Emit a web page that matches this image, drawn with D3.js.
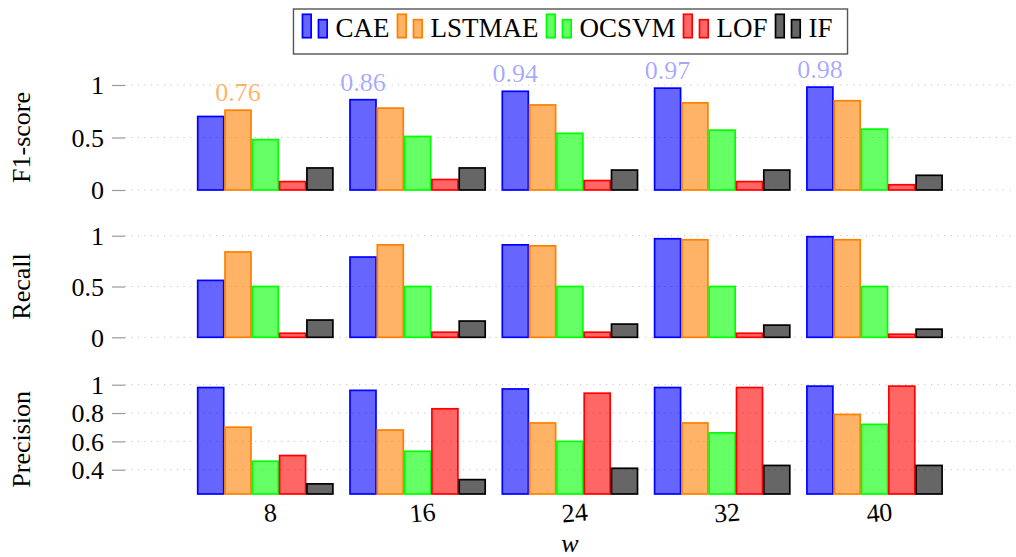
<!DOCTYPE html>
<html>
<head>
<meta charset="utf-8">
<script src="https://cdn.jsdelivr.net/npm/d3@7"></script>
<style>
  html, body { margin: 0; padding: 0; background: #fff; }
  svg { display: block; font-family: "Liberation Serif", "DejaVu Serif", serif; }
</style>
</head>
<body>
<svg id="chart" width="1016" height="557"></svg>
<script>
// Window sizes w on the x axis
const categories = ["8", "16", "24", "32", "40"];
const series = ["CAE", "LSTMAE", "OCSVM", "LOF", "IF"];

// F1-score per method
const f1CAE    = [0.70, 0.86, 0.94, 0.97, 0.98];
const f1LSTMAE = [0.76, 0.78, 0.81, 0.83, 0.85];
const f1OCSVM  = [0.48, 0.51, 0.54, 0.57, 0.58];
const f1LOF    = [0.08, 0.10, 0.09, 0.08, 0.05];
const f1IF     = [0.21, 0.21, 0.19, 0.19, 0.14];

// Recall per method
const recCAE    = [0.56, 0.79, 0.91, 0.97, 0.99];
const recLSTMAE = [0.84, 0.91, 0.90, 0.96, 0.96];
const recOCSVM  = [0.50, 0.50, 0.50, 0.50, 0.50];
const recLOF    = [0.04, 0.05, 0.05, 0.04, 0.03];
const recIF     = [0.17, 0.16, 0.13, 0.12, 0.08];

// Precision per method
const preCAE    = [0.98, 0.96, 0.97, 0.98, 0.99];
const preLSTMAE = [0.70, 0.68, 0.73, 0.73, 0.79];
const preOCSVM  = [0.46, 0.53, 0.60, 0.66, 0.72];
const preLOF    = [0.50, 0.83, 0.94, 0.98, 0.99];
const preIF     = [0.30, 0.33, 0.41, 0.43, 0.43];

// Tick labels
const ticksF1 = [0, 0.5, 1];
const ticksRecall = [0, 0.5, 1];
const ticksPrecision = [0.4, 0.6, 0.8, 1];

const strokeColors = ["#0000ff", "#ff8000", "#00ff00", "#ff0000", "#000000"];

const svg = d3.select("#chart");
const FONT = 26;
const BAR_STROKE = 1.7;

const gridLeft = 125, gridRight = 1013;

// Group and in-group band scales
const x = d3.scaleBand().domain(categories).range([189.15, 950.65]).paddingInner(0).paddingOuter(0);
const xInner = d3.scaleBand().domain(series).range([0, 136.5]).paddingInner(0.048).paddingOuter(0.024);
const innerOffset = (x.bandwidth() - 136.5) / 2;

const panels = [
  { title: "F1-score", data: [f1CAE, f1LSTMAE, f1OCSVM, f1LOF, f1IF], ticks: ticksF1,
    y: d3.scaleLinear().domain([0, 1]).range([190, 85]), bottom: 190, labelTop: true },
  { title: "Recall", data: [recCAE, recLSTMAE, recOCSVM, recLOF, recIF], ticks: ticksRecall,
    y: d3.scaleLinear().domain([0, 1]).range([337.3, 235.7]), bottom: 337.3 },
  { title: "Precision", data: [preCAE, preLSTMAE, preOCSVM, preLOF, preIF], ticks: ticksPrecision,
    y: d3.scaleLinear().domain([0.4, 1]).range([469.7, 384.7]), bottom: 494 }
];

const fmtTick = v => (v === 0 || v === 1) ? d3.format("d")(v) : d3.format(".1f")(v);

panels.forEach(p => {
  const g = svg.append("g");

  // dotted grid
  g.append("g").selectAll("line").data(p.ticks).join("line")
    .attr("x1", gridLeft).attr("x2", gridRight)
    .attr("y1", d => p.y(d)).attr("y2", d => p.y(d))
    .attr("stroke", "#c4c4c4").attr("stroke-width", 1)
    .attr("stroke-dasharray", "1.2,5.3");

  // y axis: ticks and labels only
  const axis = g.append("g").attr("transform", `translate(${gridLeft},0)`)
    .call(d3.axisLeft(p.y).tickValues(p.ticks).tickFormat(fmtTick).tickSize(13).tickPadding(8));
  axis.select(".domain").remove();
  axis.selectAll(".tick line").attr("stroke", "#9a9a9a").attr("stroke-width", 1.2);
  axis.selectAll(".tick text").attr("fill", "#000").style("font-size", FONT + "px")
    .style("font-family", "'Liberation Serif', serif").attr("dy", "0.34em");

  // bars
  series.forEach((s, si) => {
    const vals = p.data[si];
    g.append("g").selectAll("rect").data(vals).join("rect")
      .attr("x", (d, i) => x(categories[i]) + innerOffset + xInner(s))
      .attr("width", xInner.bandwidth())
      .attr("y", d => p.y(d))
      .attr("height", d => Math.max(0, p.bottom - p.y(d)))
      .attr("fill", strokeColors[si]).attr("fill-opacity", 0.6)
      .attr("stroke", strokeColors[si]).attr("stroke-width", BAR_STROKE);
  });

  // value label above the best method of each group
  if (p.labelTop) {
    categories.forEach((c, i) => {
      let best = 0;
      series.forEach((s, si) => { if (p.data[si][i] > p.data[best][i]) best = si; });
      const v = p.data[best][i];
      g.append("text")
        .attr("x", x(c) + innerOffset + xInner(series[best]) + xInner.bandwidth() / 2)
        .attr("y", p.y(v) - 9)
        .attr("text-anchor", "middle")
        .attr("fill", strokeColors[best]).attr("fill-opacity", best === 0 ? 0.35 : 0.6)
        .style("font-size", FONT + "px")
        .text(d3.format(".2f")(v));
    });
  }

  // panel title
  const cy = (p.y.range()[1] + p.bottom) / 2;
  svg.append("text")
    .attr("transform", `translate(30,${cy}) rotate(-90)`)
    .attr("text-anchor", "middle")
    .style("font-size", FONT + "px")
    .text(p.title);
});

// x axis labels
const xAxis = svg.append("g").attr("transform", "translate(4,503)")
  .call(d3.axisBottom(x).tickSize(0).tickPadding(0));
xAxis.select(".domain").remove();
xAxis.selectAll(".tick text")
  .style("font-size", FONT + "px").style("font-family", "'Liberation Serif', serif")
  .attr("fill", "#000")
  .attr("dy", "0.71em")
  .attr("transform", "rotate(-5)");

svg.append("text")
  .attr("x", 570).attr("y", 552)
  .attr("text-anchor", "middle")
  .style("font-size", FONT + "px").style("font-style", "italic")
  .text("w");

// legend
const legend = svg.append("g");
let cx = 0;
series.forEach((s, si) => {
  const it = legend.append("g").attr("transform", `translate(${cx},0)`);
  it.append("rect").attr("x", 0).attr("y", 14.3).attr("width", 8.7).attr("height", 23.4)
    .attr("fill", strokeColors[si]).attr("fill-opacity", 0.6)
    .attr("stroke", strokeColors[si]).attr("stroke-width", BAR_STROKE);
  it.append("rect").attr("x", 16).attr("y", 19.7).attr("width", 8.7).attr("height", 18)
    .attr("fill", strokeColors[si]).attr("fill-opacity", 0.6)
    .attr("stroke", strokeColors[si]).attr("stroke-width", BAR_STROKE);
  const t = it.append("text").attr("x", 33).attr("y", 37.3)
    .style("font-size", "27px").text(s);
  const w = t.node().getComputedTextLength();
  cx += 33 + w + 8;
});
const legendW = cx - 8;
const padL = 9, padR = 15;
const boxW = legendW + padL + padR;
const boxX = 570.5 - boxW / 2;
legend.attr("transform", `translate(${boxX + padL},0)`);
svg.insert("rect", ":first-child")
  .attr("x", boxX).attr("y", 9).attr("width", boxW).attr("height", 45)
  .attr("fill", "#fff").attr("stroke", "#555").attr("stroke-width", 1.4);
</script>
</body>
</html>
